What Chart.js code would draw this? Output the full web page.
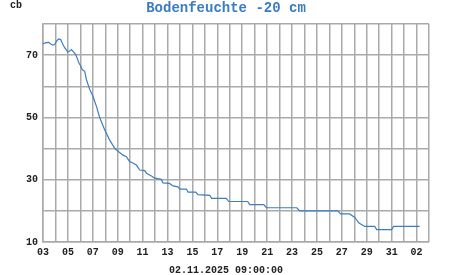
<!DOCTYPE html>
<html>
<head>
<meta charset="utf-8">
<script src="https://cdn.jsdelivr.net/npm/chart.js@4/dist/chart.umd.min.js"></script>
<style>
  html, body { margin: 0; padding: 0; background: #fff; }
  canvas { display: block; }
</style>
</head>
<body>
<canvas id="chartSoil" width="451" height="275"></canvas>
<script>
// Texte
const chartTitle = 'Bodenfeuchte -20 cm';
const unitLabel = 'cb';
const dateLabel = '02.11.2025 09:00:00';

// Achsen-Beschriftungen (x: Tage ab 03.10., alle 2 Tage beschriftet)
const xTickLabels = ['03', '05', '07', '09', '11', '13', '15', '17', '19', '21', '23', '25', '27', '29', '31', '02'];
const yTickLabels = [10, 30, 50, 70];

// Messwerte: Zeit in Tagen seit Achsenbeginn, Bodenfeuchte in cb
const days = [
    0, 0.22, 0.46, 0.62, 0.8, 0.94, 1.1, 1.26, 1.42, 1.58, 1.74, 2.0, 2.14, 2.28, 2.47, 2.63,
    2.89, 3.03, 3.16, 3.35, 3.49, 3.75, 4.02, 4.31, 4.55, 4.96, 5.36, 5.76, 6.1, 6.43, 6.7,
    6.96, 7.1, 7.5, 7.77, 8.17, 8.31, 8.71, 8.97, 9.51, 9.63, 10.16, 10.44, 10.84, 10.98,
    11.52, 11.65, 12.27, 12.45, 13.39, 13.55, 14.71, 14.92, 16.44, 16.6, 17.73, 17.94,
    20.38, 20.62, 23.67, 23.91, 24.63, 25.04, 25.38, 25.84, 26.64, 26.8, 28.0, 28.16, 30.25
];
const moisture = [
    73.6, 74.0, 74.1, 73.6, 73.2, 73.4, 74.6, 75.2, 75.0, 73.6, 72.4, 71.0, 71.3, 71.8, 71.0, 70.2,
    67.5, 66.5, 65.3, 64.8, 62.1, 59.0, 56.7, 53.3, 50.0, 46.0, 42.7, 40.1, 38.9, 37.9, 37.4,
    35.8, 35.6, 34.7, 33.1, 32.9, 32.1, 31.2, 30.5, 30.1, 29.0, 28.8, 28.0, 27.7, 27.0,
    27.0, 26.0, 26.0, 25.2, 25.0, 24.0, 24.0, 23.0, 23.0, 22.0, 22.0, 21.0,
    21.0, 20.0, 20.0, 19.0, 19.0, 17.9, 16.1, 15.0, 15.0, 14.0, 14.0, 15.0, 15.0
];

const gridColor = '#aaaaaa';
const lineColor = '#3d7ebf';
const monoBold = { family: '"Liberation Mono", "DejaVu Sans Mono", monospace', size: 10, weight: 'bold' };

// Zusatztexte: Titel, Einheit, Datum
const textPlugin = {
    id: 'texte',
    afterDraw(chart) {
        const ctx = chart.ctx;
        ctx.save();
        ctx.textBaseline = 'middle';
        ctx.font = 'bold 14px "Liberation Mono", monospace';
        ctx.fillStyle = '#3a7cc0';
        ctx.textAlign = 'center';
        ctx.fillText(chartTitle, 226, 8);
        ctx.font = 'bold 10px "Liberation Mono", monospace';
        ctx.fillStyle = '#222';
        ctx.textAlign = 'left';
        ctx.fillText(unitLabel, 10, 5);
        ctx.textAlign = 'center';
        ctx.fillText(dateLabel, 226, 270);
        ctx.restore();
    }
};

new Chart(document.getElementById('chartSoil').getContext('2d'), {
    type: 'line',
    data: {
        datasets: [{
            data: days.map((d, i) => ({ x: d, y: moisture[i] })),
            borderColor: lineColor,
            borderWidth: 1.2,
            pointRadius: 0,
            fill: false,
            tension: 0
        }]
    },
    options: {
        responsive: false,
        animation: false,
        layout: { padding: { top: 24, right: 22, bottom: 0, left: 0 } },
        plugins: {
            legend: { display: false },
            tooltip: { enabled: false }
        },
        scales: {
            x: {
                type: 'linear',
                min: 0,
                max: 31,
                afterFit: (scale) => { scale.height = 33; },
                afterBuildTicks: (scale) => {
                    scale.ticks = [];
                    for (let v = 0; v <= 31; v++) scale.ticks.push({ value: v });
                },
                ticks: {
                    autoSkip: false,
                    maxRotation: 0,
                    padding: 4,
                    color: '#222',
                    font: monoBold,
                    callback: (v) => (v % 2 === 0 && v / 2 < xTickLabels.length) ? xTickLabels[v / 2] : ''
                },
                grid: { color: gridColor, lineWidth: 1.5, drawTicks: false },
                border: { color: gridColor, width: 1.5 }
            },
            y: {
                min: 10,
                max: 80,
                afterFit: (scale) => { scale.width = 43; },
                ticks: {
                    stepSize: 10,
                    padding: 5,
                    color: '#222',
                    font: monoBold,
                    callback: (v) => yTickLabels.includes(v) ? String(v) : ''
                },
                grid: { color: gridColor, lineWidth: 1.5, drawTicks: false },
                border: { color: gridColor, width: 1.5 }
            }
        }
    },
    plugins: [textPlugin]
});
</script>
</body>
</html>
